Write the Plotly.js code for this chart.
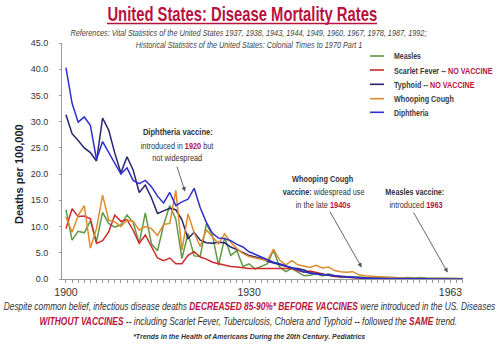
<!DOCTYPE html>
<html><head><meta charset="utf-8">
<script src="https://cdn.plot.ly/plotly-3.0.1.min.js"></script>
<style>html,body{margin:0;padding:0;background:#fff}#chart{width:500px;height:345px}</style>
</head><body><div id="chart"></div>
<script>
const years = [1900,1901,1902,1903,1904,1905,1906,1907,1908,1909,
1910,1911,1912,1913,1914,1915,1916,1917,1918,1919,
1920,1921,1922,1923,1924,1925,1926,1927,1928,1929,
1930,1931,1932,1933,1934,1935,1936,1937,1938,1939,
1940,1941,1942,1943,1944,1945,1946,1947,1948,1949,
1950,1951,1952,1953,1954,1955,1956,1957,1958,1959,
1960,1961,1962,1963,1964,1965];

const measles = [13.2,7.4,9.1,8.8,11.1,7.1,12.7,10.6,9.9,10.3,
12.2,10.8,6.8,12.6,6.7,5.4,10.3,14.0,11.4,3.9,
8.7,4.4,4.3,10.5,8.3,2.6,7.9,4.5,5.4,2.4,
2.9,1.9,2.4,2.9,5.5,2.3,1.4,2.0,1.3,0.6,
0.7,1.0,0.6,1.0,0.6,0.3,0.4,0.3,0.4,0.3,
0.2,0.4,0.4,0.3,0.3,0.2,0.3,0.2,0.3,0.2,
0.2,0.2,0.2,0.2,0.2,0.1];

const scarletFever = [9.6,13.4,11.9,12.0,11.5,6.8,7.3,9.0,12.2,11.0,
11.3,9.3,6.8,8.4,6.2,4.0,3.5,4.0,2.9,2.9,
4.5,5.2,4.2,3.8,3.2,2.9,2.6,2.4,2.3,2.1,
2.0,2.0,2.0,2.0,2.0,2.0,2.0,2.0,1.6,1.3,
1.5,1.2,0.9,0.7,0.5,0.4,0.3,0.2,0.2,0.1,
0.1,0.1,0.05,0.05,0,0,0,0,0,0,
0,0,0,0,0,0];

const typhoid = [31.3,27.7,26.4,25.0,24.1,22.5,30.7,28.4,24.0,20.2,
23.3,20.8,16.5,17.9,15.5,12.5,13.0,13.5,13.2,11.3,
7.7,8.9,7.4,6.9,6.8,7.0,6.9,6.1,5.6,5.0,
4.5,4.2,3.9,3.4,3.1,2.8,2.4,2.1,2.0,1.7,
1.2,1.0,0.8,0.7,0.6,0.5,0.4,0.3,0.2,0.2,
0.1,0.1,0.1,0.05,0.05,0,0,0,0,0,
0,0,0,0,0,0];

const whoopingCough = [11.8,8.9,12.1,14.0,5.9,9.6,16.0,11.2,10.9,10.0,
11.2,11.0,9.3,10.0,9.6,8.3,10.4,10.6,16.9,5.5,
12.4,8.8,6.2,9.4,8.0,6.7,8.6,7.0,5.8,4.9,
4.3,4.0,3.7,3.5,5.7,3.6,2.7,3.5,2.7,2.4,
2.2,2.6,2.1,2.3,1.6,1.4,1.3,1.4,0.8,0.6,
0.5,0.4,0.3,0.2,0.2,0.2,0.1,0.1,0.1,0.1,
0.1,0.05,0.05,0.05,0.05,0.05];

const diphtheria = [40.3,33.5,29.9,30.9,29.3,22.8,26.2,24.2,22.0,20.0,
21.2,18.8,18.2,18.8,17.6,15.8,14.5,16.5,14.0,14.7,
15.2,17.3,13.6,10.8,8.7,7.8,7.7,7.3,6.6,6.1,
5.2,4.7,4.2,3.6,3.2,2.9,2.5,2.1,1.7,1.4,
1.1,0.9,0.8,0.8,0.6,0.5,0.4,0.3,0.2,0.2,
0.1,0.1,0.1,0.05,0.05,0,0,0,0,0,
0,0,0,0,0,0];

const labelYears = [1900, 1930, 1963];
const seriesNames = ['Measles', 'Scarlet Fever -- NO VACCINE', 'Typhoid -- NO VACCINE', 'Whooping Cough', 'Diphtheria'];
const seriesData = [measles, scarletFever, typhoid, whoopingCough, diphtheria];
const colors = ['#5e9a45', '#cf2b2b', '#26256e', '#df8a2e', '#2f2fcf'];

const CRIMSON = '#b8123f';
const SANS = '"Liberation Sans", Arial, sans-serif';

// pixel helpers for paper coordinates (plot area 62..463 x 43..279)
const L = 62, R = 463, T = 43, B = 279;
const px = v => (v - L) / (R - L);
const py = v => (B - v) / (B - T);

const traces = seriesData.map((d, i) => ({
  x: years, y: d, type: 'scatter', mode: 'lines',
  line: {color: colors[i], width: 1.5},
  name: seriesNames[i], showlegend: false, hoverinfo: 'skip'
}));

const tickText = years.map(y => labelYears.includes(y) ? String(y) : '');

const ann = [];
const squeeze = [];
function txt(text, x, y, size, opts, w) {
  const o = Object.assign({
    text: text, xref: 'paper', yref: 'paper', x: px(x), y: py(y),
    xanchor: 'center', yanchor: 'middle', showarrow: false,
    font: {family: SANS, size: size, color: '#333'}
  }, opts || {});
  if (w) squeeze.push({i: ann.length, w: w, anchor: o.xanchor});
  ann.push(o);
}
// title and references
txt('<b>United States: Disease Mortality Rates</b>', 242, 14, 20, {font: {family: SANS, size: 20, color: CRIMSON}}, 270);
txt('<i>References: Vital Statistics of the United States 1937, 1938, 1943, 1944, 1949, 1960, 1967, 1978, 1987, 1992;</i>', 248.5, 33, 8.8, {font: {family: SANS, size: 8.8, color: '#444'}}, 357);
txt('<i>Historical Statistics of the United States: Colonial Times to 1970 Part 1</i>', 248.5, 45, 8.8, {font: {family: SANS, size: 8.8, color: '#444'}}, 227);

// legend
const legY = [56, 70, 84.3, 98.7, 112.3];
const legW = [27, 99, 81, 60, 35];
const legText = ['<b>Measles</b>', '<b>Scarlet Fever -- <span style="color:' + CRIMSON + '">NO VACCINE</span></b>',
  '<b>Typhoid -- <span style="color:' + CRIMSON + '">NO VACCINE</span></b>', '<b>Whooping Cough</b>', '<b>Diphtheria</b>'];
const shapes = [];
legY.forEach((yy, i) => {
  shapes.push({type: 'line', xref: 'paper', yref: 'paper', x0: px(370), x1: px(384), y0: py(yy), y1: py(yy),
    line: {color: colors[i], width: 1.6}});
  txt(legText[i], 391.5, yy, 9.6, {xanchor: 'left', font: {family: SANS, size: 9.6, color: '#3a3a3a'}}, legW[i]);
});
// title underline
shapes.push({type: 'line', xref: 'paper', yref: 'paper', x0: px(107), x1: px(377), y0: py(23.5), y1: py(23.5),
  line: {color: CRIMSON, width: 1.4}});

// callouts
const cf = {family: SANS, size: 9.5, color: '#333'};
txt('<b>Diphtheria vaccine:</b>', 178, 131.5, 9.5, {font: cf}, 70);
txt('introduced in <b><span style="color:' + CRIMSON + '">1920</span></b> but', 176.5, 145, 9.5, {font: cf}, 73);
txt('not widespread', 177, 157, 9.5, {font: cf}, 50);
txt('<b>Whooping Cough</b>', 322.5, 178.5, 9.5, {font: cf}, 61.5);
txt('<b>vaccine:</b> widespread use', 323, 191, 9.5, {font: cf}, 82);
txt('in the late <b><span style="color:' + CRIMSON + '">1940s</span></b>', 322.5, 204, 9.5, {font: cf}, 55);
txt('<b>Measles vaccine:</b>', 414.5, 191, 9.5, {font: cf}, 59);
txt('introduced <b><span style="color:' + CRIMSON + '">1963</span></b>', 416, 204, 9.5, {font: cf}, 53.5);

function arrow(x0, y0, x1, y1) {
  ann.push({text: '', xref: 'paper', yref: 'paper', x: px(x1), y: py(y1),
    axref: 'pixel', ayref: 'pixel', ax: x0 - x1, ay: y0 - y1,
    showarrow: true, arrowhead: 2, arrowsize: 1, arrowwidth: 0.9, arrowcolor: '#555'});
}
arrow(176.5, 165, 185, 191.5);
arrow(329, 210, 361.7, 267.5);
arrow(412.7, 211, 447.7, 272.5);

// y label
txt('<b>Deaths per 100,000</b>', 19, 174, 11, {textangle: -90, font: {family: SANS, size: 11, color: '#222'}});

// footer
const ff = {family: SANS, size: 10, color: '#333'};
txt('<i>Despite common belief, infectious disease deaths <b><span style="color:' + CRIMSON + '">DECREASED 85-90%* BEFORE VACCINES</span></b> were introduced in the US. Diseases</i>', 249.5, 306.5, 10, {font: ff}, 492);
txt('<i><b><span style="color:' + CRIMSON + '">WITHOUT VACCINES</span></b> -- including Scarlet Fever, Tuberculosis, Cholera and Typhoid -- followed the <b><span style="color:' + CRIMSON + '">SAME</span></b> trend.</i>', 248, 321.5, 10, {font: ff}, 418);
txt('<i><b>*Trends in the Health of Americans During the 20th Century. Pediatrics</b></i>', 249.5, 336.5, 8, {font: {family: SANS, size: 8, color: '#333'}}, 233);

const layout = {
  width: 500, height: 345,
  margin: {l: L, r: 500 - R, t: T, b: 345 - B, pad: 0},
  paper_bgcolor: '#fff', plot_bgcolor: '#fff',
  showlegend: false,
  xaxis: {
    range: [1899.35, 1965.05], tickmode: 'array', tickvals: years, ticktext: tickText,
    ticks: 'outside', ticklen: 3, tickwidth: 1, tickcolor: '#999',
    showline: true, linecolor: '#999', linewidth: 1, showgrid: false, zeroline: false,
    tickfont: {family: SANS, size: 10.5, color: '#333'}, tickangle: 0
  },
  yaxis: {
    range: [0, 45], dtick: 5, tick0: 0, tickformat: '.1f',
    ticks: 'outside', ticklen: 2, tickcolor: '#999',
    showline: true, linecolor: '#999', linewidth: 1, showgrid: false, zeroline: false,
    tickfont: {family: SANS, size: 9, color: '#333'}, ticklabelstandoff: 9
  },
  annotations: ann,
  shapes: shapes
};

Plotly.newPlot('chart', traces, layout, {staticPlot: true, displayModeBar: false}).then(gd => {
  // condense text horizontally to match the narrow typeface of the original
  squeeze.forEach(s => {
    const g = gd.querySelector('.annotation[data-index="' + s.i + '"]');
    if (!g) return;
    const t = g.querySelector('text.annotation-text');
    if (!t) return;
    const bb = t.getBBox();
    if (!bb.width) return;
    const k = s.w / bb.width;
    const cx = s.anchor === 'left' ? bb.x : bb.x + bb.width / 2;
    t.setAttribute('transform', 'translate(' + (cx * (1 - k)) + ',0) scale(' + k + ',1)');
  });
});
</script>
</body></html>
